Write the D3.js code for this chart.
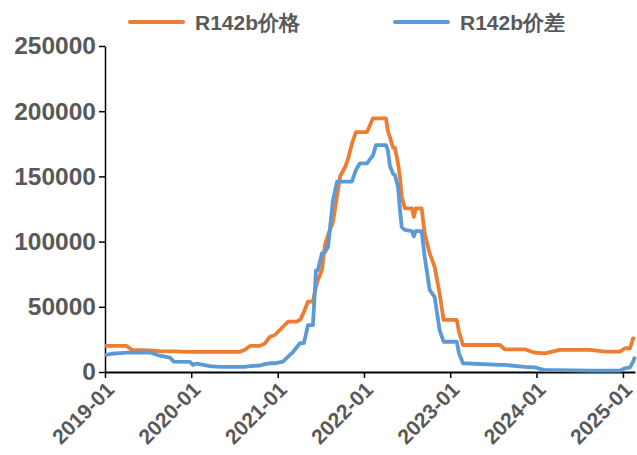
<!DOCTYPE html>
<html><head><meta charset="utf-8">
<script src="https://cdn.jsdelivr.net/npm/d3@7"></script>
<style>
body{margin:0;background:#fff;}
svg text{font-family:"Liberation Sans",Arial,sans-serif;font-weight:bold;fill:#595959;}
</style></head>
<body><svg id="c" width="637" height="455"></svg>
<script>
const seriesNames = ["R142b价格", "R142b价差"];
const dates = ["2019-01-01","2019-01-30","2019-03-05","2019-04-03","2019-04-24","2019-07-10","2019-08-21","2019-10-03","2019-10-19","2019-12-27",
"2020-01-08","2020-01-25","2020-03-20","2020-05-01","2020-07-25","2020-08-15","2020-09-06","2020-10-18","2020-11-08","2020-11-29","2020-12-20",
"2021-01-23","2021-02-14","2021-03-03","2021-03-20","2021-04-06","2021-04-22","2021-05-09","2021-05-30","2021-06-12","2021-06-20","2021-07-07",
"2021-07-20","2021-08-02","2021-08-10","2021-08-23","2021-09-09","2021-09-22","2021-10-13","2021-10-25","2021-11-11","2021-11-28","2021-12-15",
"2022-01-14","2022-01-26","2022-02-08","2022-02-21","2022-04-04","2022-04-12","2022-04-21","2022-05-04","2022-05-12","2022-05-25","2022-06-02",
"2022-06-10","2022-06-23","2022-07-23","2022-07-31","2022-08-08","2022-09-02","2022-09-15","2022-10-06","2022-10-27","2022-11-17","2022-12-04",
"2023-01-29","2023-02-07","2023-02-24","2023-07-30","2023-08-20","2023-11-12","2023-12-25","2024-02-06","2024-04-09","2024-08-14","2024-10-17",
"2024-12-19","2025-01-10","2025-01-31","2025-02-13","2025-02-21"];
const price = [20000,20000,20000,20000,17000,16500,16000,15800,15800,15500,
15500,15500,15500,15500,15500,17000,20000,20000,22000,27000,28400,
34700,38600,38600,38600,40000,46200,53900,53900,65400,70500,78000,
97400,105000,109000,115000,135000,150000,157000,163000,175000,184000,184000,
184000,189000,194500,194500,194500,185000,180000,172000,172000,160000,150000,
134000,125500,125500,119000,125500,125500,106000,91000,80700,60300,39900,
39900,30900,20700,20700,17400,17400,14800,14300,16900,16900,15600,
15600,18200,18200,25800,25000];
const spread = [13000,14000,14500,14800,14800,15000,12500,11000,8000,7800,
5500,6500,4500,4000,4000,4000,4500,5000,6000,6700,6700,
7900,11700,14600,18400,22200,22200,36000,36000,78000,78000,91000,
92000,96000,110000,132000,146000,146000,146000,146000,146000,155000,160000,
160000,163000,166000,174000,174000,170000,158000,152000,151000,142000,125000,
111000,109000,108000,104000,108000,108000,88400,62900,57700,32200,23200,
23200,14300,6700,5400,5400,4000,3600,1500,1500,1000,1000,
1000,2800,3500,8000,11700];
const yTicks = [0,50000,100000,150000,200000,250000];
const xTicks = ["2019-01","2020-01","2021-01","2022-01","2023-01","2024-01","2025-01"];
const colors = ["#ED7D31","#5B9BD5"];

const parse = d3.timeParse("%Y-%m-%d");
const parseM = d3.timeParse("%Y-%m");
const svg = d3.select("#c");
const x = d3.scaleTime().domain([parse("2019-01-01"), parse("2025-02-21")]).range([105, 635]);
const y = d3.scaleLinear().domain([0,250000]).range([372, 46]);

const xAxis = svg.append("g").attr("transform","translate(0,372)")
  .call(d3.axisBottom(x).tickValues(xTicks.map(parseM)).tickFormat(d3.timeFormat("%Y-%m")).tickSize(6).tickSizeOuter(0));
xAxis.select(".domain").attr("stroke","#000").attr("stroke-width",2);
xAxis.selectAll(".tick line").attr("stroke","#000").attr("stroke-width",1.5);
xAxis.selectAll("text").attr("font-size",21).attr("text-anchor","end")
  .attr("transform","rotate(-45)").attr("dx","-0.3em").attr("dy","0.55em");

const yAxis = svg.append("g").attr("transform","translate(105,0)")
  .call(d3.axisLeft(y).tickValues(yTicks).tickFormat(d3.format("d")).tickSize(6).tickSizeOuter(0).tickPadding(3));
yAxis.select(".domain").attr("stroke","#000").attr("stroke-width",1.5);
yAxis.selectAll(".tick line").attr("stroke","#000").attr("stroke-width",1.5);
yAxis.selectAll("text").attr("font-size",24.5);
svg.selectAll(".tick text").style("fill","#595959").style("font-family","'Liberation Sans',Arial,sans-serif").style("font-weight","bold");

const pts = dates.map(parse);
[price, spread].forEach((vals,i)=>{
  const line = d3.line().x((d,j)=>x(pts[j])).y(d=>y(d));
  svg.append("path").datum(vals).attr("d",line).attr("fill","none")
    .attr("stroke",colors[i]).attr("stroke-width",3.8).attr("stroke-linejoin","round");
});

const legX = [130, 395];
seriesNames.forEach((n,i)=>{
  svg.append("line").attr("x1",legX[i]).attr("x2",legX[i]+53).attr("y1",22).attr("y2",22)
    .attr("stroke",colors[i]).attr("stroke-width",4).attr("stroke-linecap","round");
  svg.append("text").attr("x",legX[i]+65).attr("y",30).attr("font-size",21).text(n);
});
</script></body></html>
